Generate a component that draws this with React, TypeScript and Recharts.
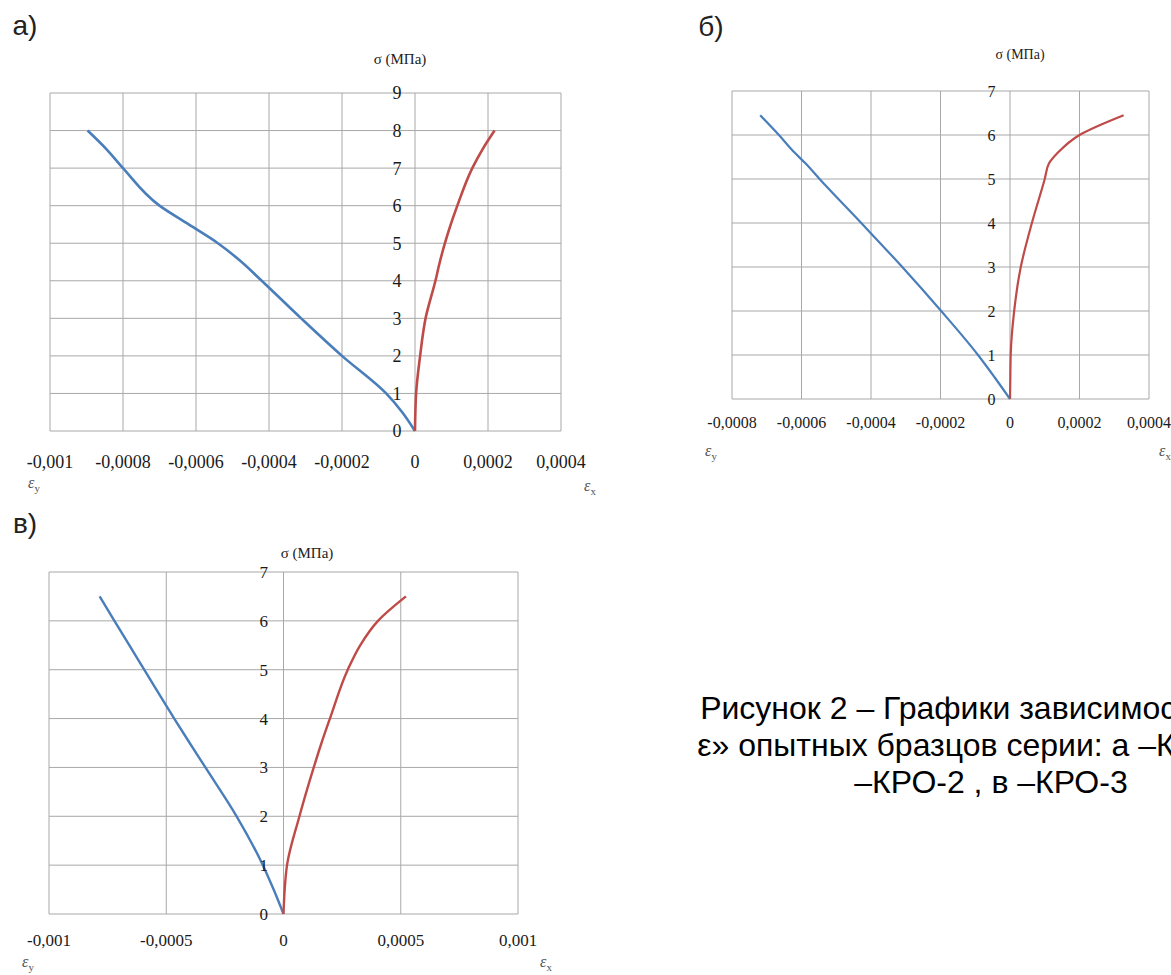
import React from 'react';
import {
  ComposedChart,
  Line,
  Scatter,
  XAxis,
  YAxis,
  CartesianGrid,
  LabelList,
} from 'recharts';

const BLUE = '#4a7ebb';
const RED = '#be4b48';
const GRID = '#a8a8a8';
const SERIF = '"Liberation Serif", "Times New Roman", serif';
const SANS = '"Liberation Sans", Arial, sans-serif';

// а) КРО-1
const sigmaA = [0, 0.5, 1, 2, 3, 4, 4.5, 5, 5.5, 6, 7, 7.5, 8];
const epsYA = [0, -0.000035, -0.000079, -0.0002, -0.000312, -0.00042, -0.000475, -0.00054, -0.00062, -0.0007, -0.0008, -0.000845, -0.000897];
const epsXA = [0, 0.000001, 0.000003, 0.000014, 0.000029, 0.000056, 0.000068, 0.000082, 0.000098, 0.000116, 0.000157, 0.000185, 0.000218];
const xTicksA = [-0.001, -0.0008, -0.0006, -0.0004, -0.0002, 0, 0.0002, 0.0004];
const yTicksA = [0, 1, 2, 3, 4, 5, 6, 7, 8, 9];

// б) КРО-2
const sigmaB = [0, 0.5, 1, 2, 3, 4, 5, 5.35, 5.6, 6, 6.45];
const epsYB = [0, -0.000045, -0.000092, -0.000198, -0.00031, -0.000428, -0.000548, -0.000588, -0.00062, -0.000665, -0.000719];
const epsXB = [0, 0.000001, 0.000002, 0.000012, 0.000031, 0.000063, 0.0001, 0.000112, 0.000138, 0.0002, 0.000327];
const xTicksB = [-0.0008, -0.0006, -0.0004, -0.0002, 0, 0.0002, 0.0004];
const yTicksB = [0, 1, 2, 3, 4, 5, 6, 7];

// в) КРО-3
const sigmaC = [0, 0.5, 1, 2, 3, 3.5, 4, 5, 5.5, 6, 6.5];
const epsYC = [0, -0.000042, -0.000088, -0.0002, -0.000333, -0.0004, -0.000466, -0.000594, -0.000657, -0.000721, -0.000784];
const epsXC = [0, 0.000005, 0.000015, 0.000068, 0.000129, 0.000162, 0.000198, 0.000274, 0.000327, 0.000403, 0.000522];
const xTicksC = [-0.001, -0.0005, 0, 0.0005, 0.001];
const yTicksC = [0, 1, 2, 3, 4, 5, 6, 7];

const captionLines = [
  'Рисунок 2 – Графики зависимости «σ –',
  'ε» опытных бразцов серии: а –КРО-1, б',
  '–КРО-2 , в –КРО-3',
];

const fmt = (v: number) => String(v).replace('.', ',');

type PanelProps = {
  left: number;
  top: number;
  width: number;
  height: number;
  margin: { top: number; right: number; bottom: number; left: number };
  sigma: number[];
  epsY: number[];
  epsX: number[];
  xTicks: number[];
  yTicks: number[];
  fontSize: number;
  tickMargin: number;
  labelOffset: number;
  strokeWidth: number;
};

function Panel(p: PanelProps) {
  const blue = p.sigma.map((s, i) => ({ x: p.epsY[i], y: s }));
  const red = p.sigma.map((s, i) => ({ x: p.epsX[i], y: s }));
  const axisLabels = p.yTicks.map((v) => ({ x: 0, y: v }));
  return (
    <div className="panel" style={{ position: 'absolute', left: p.left, top: p.top, fontFamily: SERIF }}>
      <ComposedChart width={p.width} height={p.height} margin={p.margin}>
        <CartesianGrid stroke={GRID} />
        <XAxis
          type="number"
          dataKey="x"
          domain={[p.xTicks[0], p.xTicks[p.xTicks.length - 1]]}
          ticks={p.xTicks}
          interval={0}
          tickFormatter={fmt}
          axisLine={false}
          tickLine={false}
          tickMargin={p.tickMargin}
          height={30}
          tick={{ fontSize: p.fontSize, fill: '#1a1a1a' }}
        />
        <YAxis
          type="number"
          dataKey="y"
          domain={[0, p.yTicks[p.yTicks.length - 1]]}
          ticks={p.yTicks}
          interval={0}
          width={0}
          tick={() => <g />}
          axisLine={false}
          tickLine={false}
        />
        <Scatter data={axisLabels} shape={() => <g />} isAnimationActive={false}>
          <LabelList
            dataKey="y"
            position="left"
            offset={p.labelOffset}
            fill="#1a1a1a"
            fontSize={p.fontSize}
          />
        </Scatter>
        <Line data={blue} dataKey="y" type="monotoneY" stroke={BLUE} strokeWidth={p.strokeWidth} dot={false} isAnimationActive={false} />
        <Line data={red} dataKey="y" type="monotoneY" stroke={RED} strokeWidth={p.strokeWidth} dot={false} isAnimationActive={false} />
      </ComposedChart>
    </div>
  );
}

function Txt({ x, y, size, font, children }: { x: number; y: number; size: number; font: string; children: React.ReactNode }) {
  return (
    <div
      style={{
        position: 'absolute',
        left: x,
        top: y,
        transform: 'translate(-50%, -50%)',
        fontFamily: font,
        fontSize: size,
        lineHeight: 1,
        whiteSpace: 'nowrap',
        color: '#222',
      }}
    >
      {children}
    </div>
  );
}

function Eps({ x, y, sub }: { x: number; y: number; sub: string }) {
  return (
    <Txt x={x} y={y} size={16} font={SERIF}>
      <span style={{ fontStyle: 'italic', color: '#555' }}>ε</span>
      <span style={{ fontSize: 11, color: '#555', verticalAlign: '-4px' }}>{sub}</span>
    </Txt>
  );
}

export default function App() {
  return (
    <div
      style={{
        position: 'absolute',
        left: 0,
        top: 0,
        width: 1171,
        height: 975,
        overflow: 'hidden',
        background: '#fff',
      }}
    >
      <style>{`.panel svg text { font-family: "Liberation Serif", "Times New Roman", serif !important; }`}</style>
      <Panel
        left={0}
        top={0}
        width={600}
        height={500}
        margin={{ top: 93, right: 39, bottom: 39, left: 50 }}
        sigma={sigmaA}
        epsY={epsYA}
        epsX={epsXA}
        xTicks={xTicksA}
        yTicks={yTicksA}
        fontSize={18}
        tickMargin={18}
        labelOffset={9}
        strokeWidth={2.6}
      />
      <Panel
        left={640}
        top={0}
        width={531}
        height={470}
        margin={{ top: 91, right: 22, bottom: 41, left: 92 }}
        sigma={sigmaB}
        epsY={epsYB}
        epsX={epsXB}
        xTicks={xTicksB}
        yTicks={yTicksB}
        fontSize={16}
        tickMargin={12}
        labelOffset={10}
        strokeWidth={2.2}
      />
      <Panel
        left={0}
        top={490}
        width={560}
        height={485}
        margin={{ top: 82, right: 42, bottom: 31, left: 49 }}
        sigma={sigmaC}
        epsY={epsYC}
        epsX={epsXC}
        xTicks={xTicksC}
        yTicks={yTicksC}
        fontSize={17}
        tickMargin={14}
        labelOffset={11}
        strokeWidth={2.4}
      />

      <Txt x={25} y={26} size={28} font={SANS}>а)</Txt>
      <Txt x={711} y={27} size={28} font={SANS}>б)</Txt>
      <Txt x={25} y={524} size={28} font={SANS}>в)</Txt>

      <Txt x={400} y={59} size={15} font={SERIF}>σ (МПа)</Txt>
      <Txt x={1020} y={55} size={14} font={SERIF}>σ (МПа)</Txt>
      <Txt x={307} y={553} size={15} font={SERIF}>σ (МПа)</Txt>

      <Eps x={34} y={484} sub="y" />
      <Eps x={590} y={487} sub="x" />
      <Eps x={711} y={452} sub="y" />
      <Eps x={1165} y={452} sub="x" />
      <Eps x={28} y={963} sub="y" />
      <Eps x={546} y={963} sub="x" />

      <div
        style={{
          position: 'absolute',
          left: 591,
          top: 690,
          width: 800,
          textAlign: 'center',
          fontFamily: SANS,
          fontSize: 32,
          lineHeight: '37px',
          whiteSpace: 'nowrap',
          color: '#000',
        }}
      >
        {captionLines.map((t) => (
          <div key={t}>{t}</div>
        ))}
      </div>
    </div>
  );
}
